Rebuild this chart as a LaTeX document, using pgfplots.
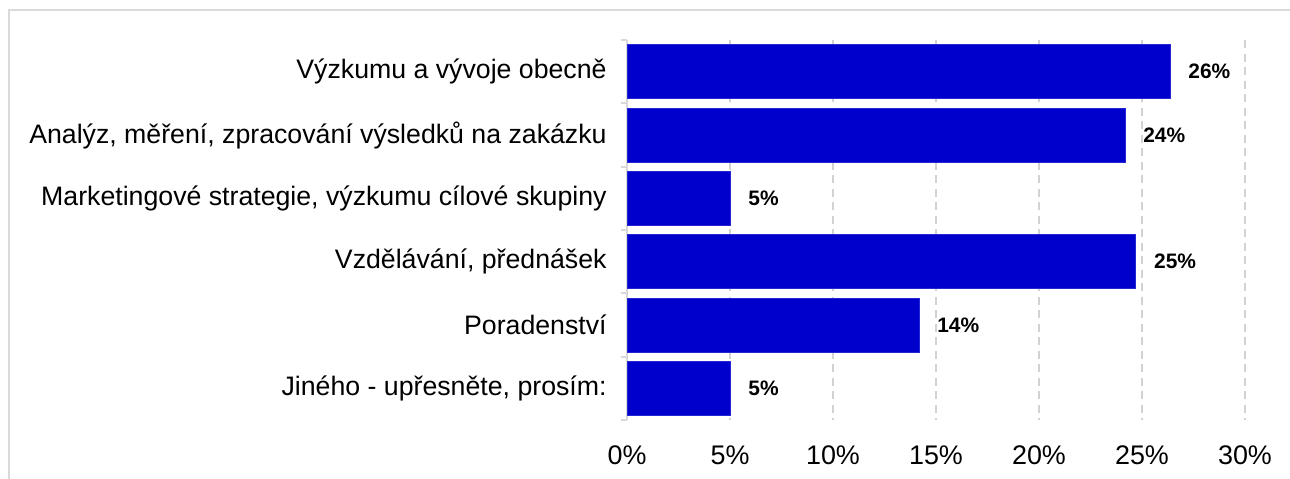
\documentclass[border=0pt]{standalone}
\usepackage{fontspec}
\setmainfont{Liberation Sans}
\usepackage{pgfplots}
\pgfplotsset{compat=1.18}
\definecolor{barblue}{RGB}{0,0,204}
\definecolor{framegray}{RGB}{217,217,217}
\definecolor{gridgray}{RGB}{210,210,210}
\begin{document}
\begin{tikzpicture}
\useasboundingbox (0,0) rectangle (645bp,239.5bp);
\draw[line width=1bp, framegray] (4.5bp,-2bp) -- (4.5bp,234.5bp) -- (648bp,234.5bp);
\begin{axis}[
  at={(313.5bp,29.5bp)}, anchor=south west,
  scale only axis, width=309bp, height=190bp,
  xmin=0, xmax=30, ymin=0.5, ymax=6.5,
  y dir=reverse,
  axis lines=left,
  x axis line style={draw=none},
  y axis line style={-, draw=framegray, line width=1bp},
  xtick={0,5,10,15,20,25,30},
  xticklabels={0\%,5\%,10\%,15\%,20\%,25\%,30\%},
  xticklabel style={anchor=base, yshift=-22.25bp, font=\fontsize{13.5}{16}\selectfont},
  ytick={1,2,3,4,5,6},
  yticklabels={Výzkumu a vývoje obecně, {Analýz, měření, zpracování výsledků na zakázku}, {Marketingové strategie, výzkumu cílové skupiny}, {Vzdělávání, přednášek}, Poradenství, {Jiného - upřesněte, prosím:}},
  yticklabel style={anchor=east, inner sep=0pt, xshift=-10bp, font=\fontsize{13.4}{16}\selectfont},
  major tick length=0pt,
  minor ytick={0.5,1.5,2.5,3.5,4.5,5.5,6.5},
  minor tick length=3bp,
  tick align=outside,
  tick style={draw=framegray, line width=1bp},
  xmajorgrids,
  major grid style={draw=gridgray, line width=1bp, dash pattern=on 4bp off 2.75bp},
  minor grid style={draw=none},
  clip=false,
  xbar, bar width=26.9bp, bar shift=0pt,
  nodes near coords,
  point meta=explicit symbolic,
  nodes near coords style={anchor=west, inner sep=0pt, xshift=9bp, font=\fontsize{10.5}{12}\bfseries\selectfont, text=black},
]
\addplot[fill=barblue, draw=barblue!85!white, line width=0.4bp] coordinates {
  (26.36,1) [26\%]
  (24.17,2) [24\%]
  (5.0,3) [5\%]
  (24.7,4) [25\%]
  (14.17,5) [14\%]
  (5.0,6) [5\%]
};
\end{axis}
\end{tikzpicture}
\end{document}
